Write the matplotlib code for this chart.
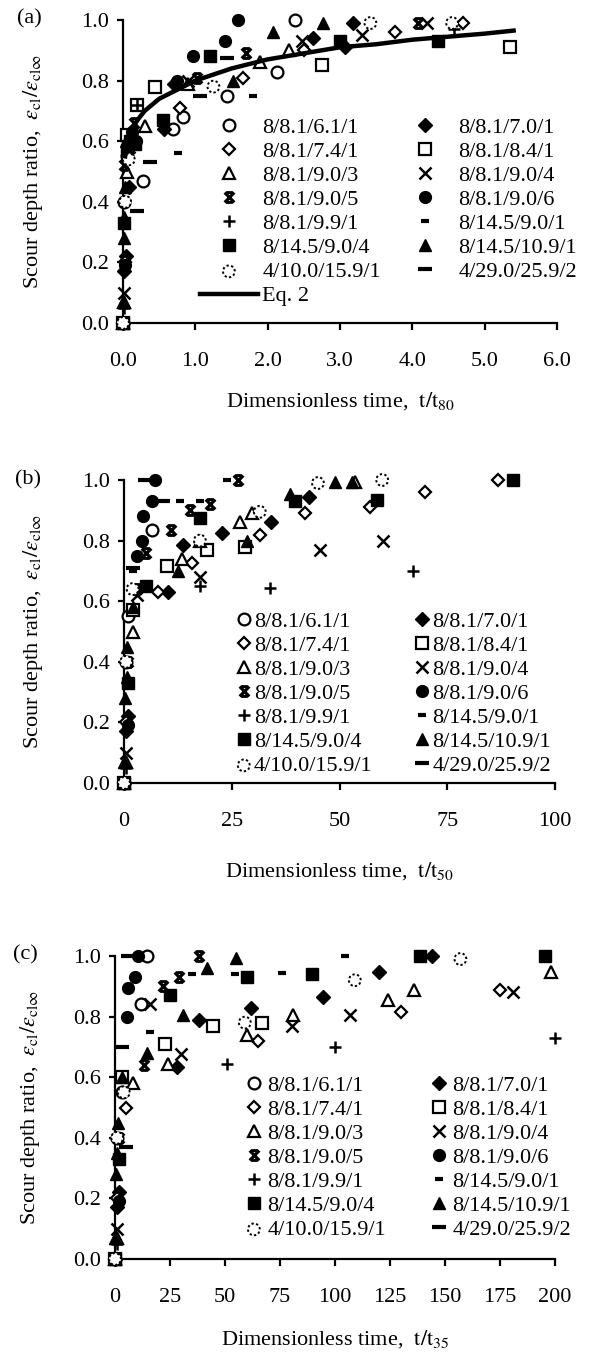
import numpy as np
import matplotlib
matplotlib.use("Agg")
import matplotlib.pyplot as plt
from matplotlib.path import Path

plt.rcParams["font.family"] = ["Liberation Serif", "DejaVu Serif"]
plt.rcParams["mathtext.fontset"] = "stix"

LABELS = ["8/8.1/6.1/1", "8/8.1/7.0/1", "8/8.1/7.4/1", "8/8.1/8.4/1",
          "8/8.1/9.0/3", "8/8.1/9.0/4", "8/8.1/9.0/5", "8/8.1/9.0/6",
          "8/8.1/9.9/1", "8/14.5/9.0/1", "8/14.5/9.0/4", "8/14.5/10.9/1",
          "4/10.0/15.9/1", "4/29.0/25.9/2"]

# ---- panel (a): t/t80 ----
T_A = {
    "8/8.1/6.1/1": [0, 0.02, 0.05, 0.28, 0.69, 0.83, 1.44, 2.13, 2.38],
    "8/8.1/7.0/1": [0, 0.02, 0.04, 0.08, 0.56, 0.70, 2.63, 3.07, 3.18],
    "8/8.1/7.4/1": [0, 0.03, 0.08, 0.79, 1.66, 2.5, 3.76, 4.7],
    "8/8.1/8.4/1": [0, 0.05, 0.2, 0.44, 2.75, 5.35],
    "8/8.1/9.0/3": [0, 0.02, 0.06, 0.3, 0.9, 1.9, 2.3],
    "8/8.1/9.0/4": [0, 0.02, 0.08, 0.9, 2.47, 3.3, 4.2],
    "8/8.1/9.0/5": [0.02, 0.06, 0.15, 1.02, 1.7, 4.08],
    "8/8.1/9.0/6": [0, 0.03, 0.08, 0.12, 0.18, 0.75, 0.97, 1.41, 1.59],
    "8/8.1/9.9/1": [0, 0.02, 0.19, 4.57],
    "8/14.5/9.0/1": [0.1, 0.76, 1.8],
    "8/14.5/9.0/4": [0, 0.02, 0.06, 0.1, 0.16, 0.55, 1.2, 3.0, 4.36],
    "8/14.5/10.9/1": [0, 0.01, 0.02, 0.03, 0.04, 1.52, 2.08, 2.77],
    "4/10.0/15.9/1": [0, 0.03, 0.08, 1.25, 3.42, 4.55],
    "4/29.0/25.9/2": [0.2, 0.37, 1.06, 1.44],
}
R_A = {
    "8/8.1/6.1/1": [0, 0.40, 0.55, 0.47, 0.64, 0.68, 0.75, 0.83, 1.0],
    "8/8.1/7.0/1": [0, 0.17, 0.22, 0.45, 0.64, 0.79, 0.94, 0.91, 0.99],
    "8/8.1/7.4/1": [0, 0.20, 0.60, 0.71, 0.81, 0.90, 0.96, 0.99],
    "8/8.1/8.4/1": [0, 0.62, 0.72, 0.78, 0.85, 0.91],
    "8/8.1/9.0/3": [0, 0.07, 0.50, 0.65, 0.79, 0.86, 0.90],
    "8/8.1/9.0/4": [0, 0.10, 0.58, 0.80, 0.93, 0.95, 0.99],
    "8/8.1/9.0/5": [0.52, 0.58, 0.66, 0.81, 0.89, 0.99],
    "8/8.1/9.0/6": [0, 0.19, 0.58, 0.63, 0.60, 0.80, 0.88, 0.93, 1.0],
    "8/8.1/9.9/1": [0, 0.05, 0.72, 0.97],
    "8/14.5/9.0/1": [0.54, 0.56, 0.75],
    "8/14.5/9.0/4": [0, 0.33, 0.57, 0.60, 0.59, 0.67, 0.88, 0.93, 0.93],
    "8/14.5/10.9/1": [0.07, 0.28, 0.35, 0.45, 0.60, 0.80, 0.96, 0.99],
    "4/10.0/15.9/1": [0, 0.40, 0.54, 0.78, 0.99, 0.99],
    "4/29.0/25.9/2": [0.37, 0.53, 0.75, 0.875],
}
EQ2_T = [0.03, 0.1, 0.2, 0.3, 0.5, 0.75, 1.0, 1.5, 2.0, 2.5, 3.0, 3.5, 4.0, 4.5, 5.0, 5.4]
EQ2_R = [0.55, 0.63, 0.67, 0.70, 0.74, 0.77, 0.80, 0.84, 0.87, 0.89, 0.91, 0.92, 0.935, 0.945, 0.955, 0.965]

# ---- panel (b): t/t50 ----
T_B = {
    "8/8.1/6.1/1": [0, 0.5, 1, 6.4],
    "8/8.1/7.0/1": [0, 0.5, 1, 10.3, 13.8, 22.7, 34, 43],
    "8/8.1/7.4/1": [0, 0.5, 8, 15.7, 31.5, 42, 57, 69.8, 86.8],
    "8/8.1/8.4/1": [0, 2, 9.9, 19.2, 28],
    "8/8.1/9.0/3": [0, 0.5, 2, 13.4, 17.6, 27, 29.6, 53.6],
    "8/8.1/9.0/4": [0, 0.5, 3, 17.6, 45.5, 60],
    "8/8.1/9.0/5": [1, 3, 5, 11, 15.3, 20, 26.5],
    "8/8.1/9.0/6": [0, 1, 3, 4.1, 4.4, 6.4, 7.2],
    "8/8.1/9.9/1": [0, 0.5, 17.6, 33.9, 67],
    "8/14.5/9.0/1": [2, 13, 17.6, 23.9],
    "8/14.5/9.0/4": [0, 1, 5, 17.6, 39.7, 58.7, 90.3],
    "8/14.5/10.9/1": [0, 0.3, 0.6, 0.8, 2, 12.6, 28.5, 38.5, 49, 52.9],
    "4/10.0/15.9/1": [0, 0.5, 2, 17.6, 31.5, 45, 59.9],
    "4/29.0/25.9/2": [2, 4.9, 9],
}
R_B = {
    "8/8.1/6.1/1": [0, 0.40, 0.55, 0.835],
    "8/8.1/7.0/1": [0, 0.17, 0.22, 0.63, 0.785, 0.825, 0.86, 0.945],
    "8/8.1/7.4/1": [0, 0.20, 0.63, 0.725, 0.82, 0.89, 0.91, 0.96, 1.0],
    "8/8.1/8.4/1": [0, 0.57, 0.715, 0.77, 0.78],
    "8/8.1/9.0/3": [0, 0.07, 0.50, 0.74, 0.80, 0.86, 0.89, 0.995],
    "8/8.1/9.0/4": [0, 0.10, 0.62, 0.68, 0.77, 0.80],
    "8/8.1/9.0/5": [0.40, 0.64, 0.76, 0.835, 0.90, 0.92, 1.0],
    "8/8.1/9.0/6": [0, 0.19, 0.75, 0.80, 0.88, 0.93, 1.0],
    "8/8.1/9.9/1": [0, 0.05, 0.65, 0.645, 0.70],
    "8/14.5/9.0/1": [0.70, 0.93, 0.93, 1.0],
    "8/14.5/9.0/4": [0, 0.33, 0.65, 0.875, 0.93, 0.935, 1.0],
    "8/14.5/10.9/1": [0.07, 0.28, 0.35, 0.45, 0.58, 0.70, 0.80, 0.955, 0.995, 0.995],
    "4/10.0/15.9/1": [0, 0.40, 0.64, 0.80, 0.895, 0.99, 1.0],
    "4/29.0/25.9/2": [0.71, 1.0, 0.93],
}

# ---- panel (c): t/t35 ----
T_C = {
    "8/8.1/6.1/1": [0, 1, 3, 12, 14.4],
    "8/8.1/7.0/1": [0, 1, 2, 28, 38, 62, 94.5, 120, 144],
    "8/8.1/7.4/1": [0, 1, 5, 65, 130, 175],
    "8/8.1/8.4/1": [0, 3, 22.7, 44.7, 66.6],
    "8/8.1/9.0/3": [0, 1, 8, 24, 60, 81, 124, 136, 198],
    "8/8.1/9.0/4": [0, 1, 16, 30, 80.5, 107, 181],
    "8/8.1/9.0/5": [2, 13, 22, 29, 38],
    "8/8.1/9.0/6": [0, 2, 5.3, 6, 9, 10.6],
    "8/8.1/9.9/1": [0, 1, 51, 100, 200],
    "8/14.5/9.0/1": [16, 35, 54.5, 76, 104.5],
    "8/14.5/9.0/4": [0, 2, 25, 60, 89.5, 138.6, 195.5],
    "8/14.5/10.9/1": [0, 0.5, 1, 1.5, 3, 14.5, 31, 42, 55],
    "4/10.0/15.9/1": [0, 1, 4, 59, 109, 157],
    "4/29.0/25.9/2": [3, 6, 5],
}
R_C = {
    "8/8.1/6.1/1": [0, 0.40, 0.55, 0.84, 1.0],
    "8/8.1/7.0/1": [0, 0.17, 0.22, 0.635, 0.79, 0.83, 0.865, 0.947, 1.0],
    "8/8.1/7.4/1": [0, 0.20, 0.50, 0.72, 0.815, 0.888],
    "8/8.1/8.4/1": [0, 0.60, 0.71, 0.77, 0.78],
    "8/8.1/9.0/3": [0, 0.07, 0.58, 0.645, 0.74, 0.805, 0.855, 0.888, 0.947],
    "8/8.1/9.0/4": [0, 0.10, 0.84, 0.675, 0.77, 0.805, 0.88],
    "8/8.1/9.0/5": [0.40, 0.64, 0.90, 0.93, 1.0],
    "8/8.1/9.0/6": [0, 0.19, 0.80, 0.895, 0.93, 1.0],
    "8/8.1/9.9/1": [0, 0.05, 0.645, 0.70, 0.73],
    "8/14.5/9.0/1": [0.75, 0.94, 0.94, 0.945, 1.0],
    "8/14.5/9.0/4": [0, 0.33, 0.87, 0.93, 0.94, 1.0, 1.0],
    "8/14.5/10.9/1": [0.07, 0.28, 0.35, 0.45, 0.60, 0.68, 0.805, 0.96, 0.995],
    "4/10.0/15.9/1": [0, 0.40, 0.55, 0.78, 0.92, 0.99],
    "4/29.0/25.9/2": [0.70, 1.0, 0.37],
}

XBAR = Path([(-1, -1), (1, 1), (-1, 1), (1, -1), (-0.7, 1), (0.7, 1), (-0.7, -1), (0.7, -1)],
            [Path.MOVETO, Path.LINETO] * 4)

MS = 8.5
STYLE = {
    "8/8.1/6.1/1": dict(marker="o", ms=MS, mfc="white", mec="k", mew=1.6),
    "8/8.1/7.0/1": dict(marker="D", ms=7, mfc="k", mec="k", mew=1),
    "8/8.1/7.4/1": dict(marker="D", ms=6.5, mfc="white", mec="k", mew=1.6),
    "8/8.1/8.4/1": dict(marker="s", ms=MS, mfc="white", mec="k", mew=1.6),
    "8/8.1/9.0/3": dict(marker="^", ms=MS, mfc="white", mec="k", mew=1.6),
    "8/8.1/9.0/4": dict(marker="x", ms=MS, mec="k", mew=1.8),
    "8/8.1/9.0/5": dict(marker=XBAR, ms=7, mfc="none", mec="k", mew=2.2),
    "8/8.1/9.0/6": dict(marker="o", ms=MS, mfc="k", mec="k"),
    "8/8.1/9.9/1": dict(marker="+", ms=MS, mec="k", mew=1.8),
    "8/14.5/9.0/1": dict(marker="_", ms=5.5, mec="k", mew=3),
    "8/14.5/9.0/4": dict(marker="s", ms=MS, mfc="k", mec="k"),
    "8/14.5/10.9/1": dict(marker="^", ms=MS, mfc="k", mec="k"),
    "4/29.0/25.9/2": dict(marker="_", ms=9.5, mec="k", mew=3),
}
DOTTED = "4/10.0/15.9/1"
FS = 16


def draw(ax, T, R):
    handles = {}
    for lab in LABELS:
        if lab == DOTTED:
            h = ax.scatter(T[lab], R[lab], s=MS ** 2, marker="o", facecolors="white",
                           edgecolors="k", linewidths=1.4, linestyles=(0, (1.2, 1.2)),
                           clip_on=False, zorder=3)
        else:
            h, = ax.plot(T[lab], R[lab], ls="none", clip_on=False, zorder=3, **STYLE[lab])
        handles[lab] = h
    return handles


def style_axis(ax, xmax, xticks, xfmt):
    for s in ["top", "right"]:
        ax.spines[s].set_visible(False)
    for s in ["left", "bottom"]:
        ax.spines[s].set_linewidth(1.6)
    ax.set_xlim(0, xmax)
    ax.set_ylim(0, 1.0)
    ax.set_xticks(xticks)
    ax.set_xticklabels([xfmt.format(v) for v in xticks])
    ax.set_yticks([0, 0.2, 0.4, 0.6, 0.8, 1.0])
    ax.set_yticklabels(["0.0", "0.2", "0.4", "0.6", "0.8", "1.0"])
    ax.tick_params(axis="x", direction="out", length=5, width=1.6, labelsize=FS, pad=16)
    ax.tick_params(axis="y", direction="out", length=4, width=1.6, labelsize=FS, pad=6)


YLABEL = r"Scour depth ratio,  $\varepsilon_{\rm cl}/\varepsilon_{\rm cl\infty}$"

W, H = 591, 1353
fig = plt.figure(figsize=(W / 100, H / 100), dpi=100)


def rect(x0, x1, ytop, ybot):
    return [x0 / W, 1 - ybot / H, (x1 - x0) / W, (ybot - ytop) / H]


def add_legend(ax, handles, extra, anchor, hl, htp, cs):
    left = [LABELS[i] for i in range(0, 14, 2)]
    right = [LABELS[i] for i in range(1, 14, 2)]
    hs = [handles[l] for l in left] + extra[0] + [handles[l] for l in right]
    ls = left + extra[1] + right
    ax.legend(hs, ls, ncol=2, loc="upper left", bbox_to_anchor=(anchor[0] / W, 1 - anchor[1] / H),
              bbox_transform=fig.transFigure, frameon=False, fontsize=FS, numpoints=1,
              scatterpoints=1, handlelength=hl, handletextpad=htp, columnspacing=cs,
              labelspacing=0.16, borderpad=0, borderaxespad=0)


# (a)
axa = fig.add_axes(rect(123, 557, 20, 323))
ha = draw(axa, T_A, R_A)
eq, = axa.plot(EQ2_T, EQ2_R, color="k", lw=3.2, zorder=4)
style_axis(axa, 6.0, [0, 1, 2, 3, 4, 5, 6], "{:.1f}")
add_legend(axa, ha, ([eq], ["Eq. 2"]), (200, 117), 2.6, 0.2, 0.7)
axa.set_xlabel(r"Dimensionless time,  $\mathrm{t}/\mathrm{t}_{80}$", fontsize=FS)
axa.xaxis.set_label_coords(0.5, -0.22)
axa.set_ylabel(YLABEL, fontsize=FS)
axa.yaxis.set_label_coords(-0.18, 0.5)
fig.text(29 / W, 1 - 19 / H, "(a)", fontsize=FS, ha="center", va="center")

# (b)
axb = fig.add_axes(rect(124, 555, 480, 783))
hb = draw(axb, T_B, R_B)
style_axis(axb, 100, [0, 25, 50, 75, 100], "{:d}")
add_legend(axb, hb, ([], []), (236, 611), 0.7, 0.1, 1.9)
axb.set_xlabel(r"Dimensionless time,  $\mathrm{t}/\mathrm{t}_{50}$", fontsize=FS)
axb.xaxis.set_label_coords(0.5, -0.254)
axb.set_ylabel(YLABEL, fontsize=FS)
axb.yaxis.set_label_coords(-0.183, 0.5)
fig.text(28 / W, 1 - 480 / H, "(b)", fontsize=FS, ha="center", va="center")

# (c)
axc = fig.add_axes(rect(115, 555, 956, 1259))
hc = draw(axc, T_C, R_C)
style_axis(axc, 200, [0, 25, 50, 75, 100, 125, 150, 175, 200], "{:d}")
add_legend(axc, hc, ([], []), (245, 1075), 0.8, 0.2, 2.0)
axc.set_xlabel(r"Dimensionless time,  $\mathrm{t}/\mathrm{t}_{35}$", fontsize=FS)
axc.xaxis.set_label_coords(0.5, -0.228)
axc.set_ylabel(YLABEL, fontsize=FS)
axc.yaxis.set_label_coords(-0.166, 0.5)
fig.text(25 / W, 1 - 955 / H, "(c)", fontsize=FS, ha="center", va="center")

fig.savefig("out.png", dpi=100)
